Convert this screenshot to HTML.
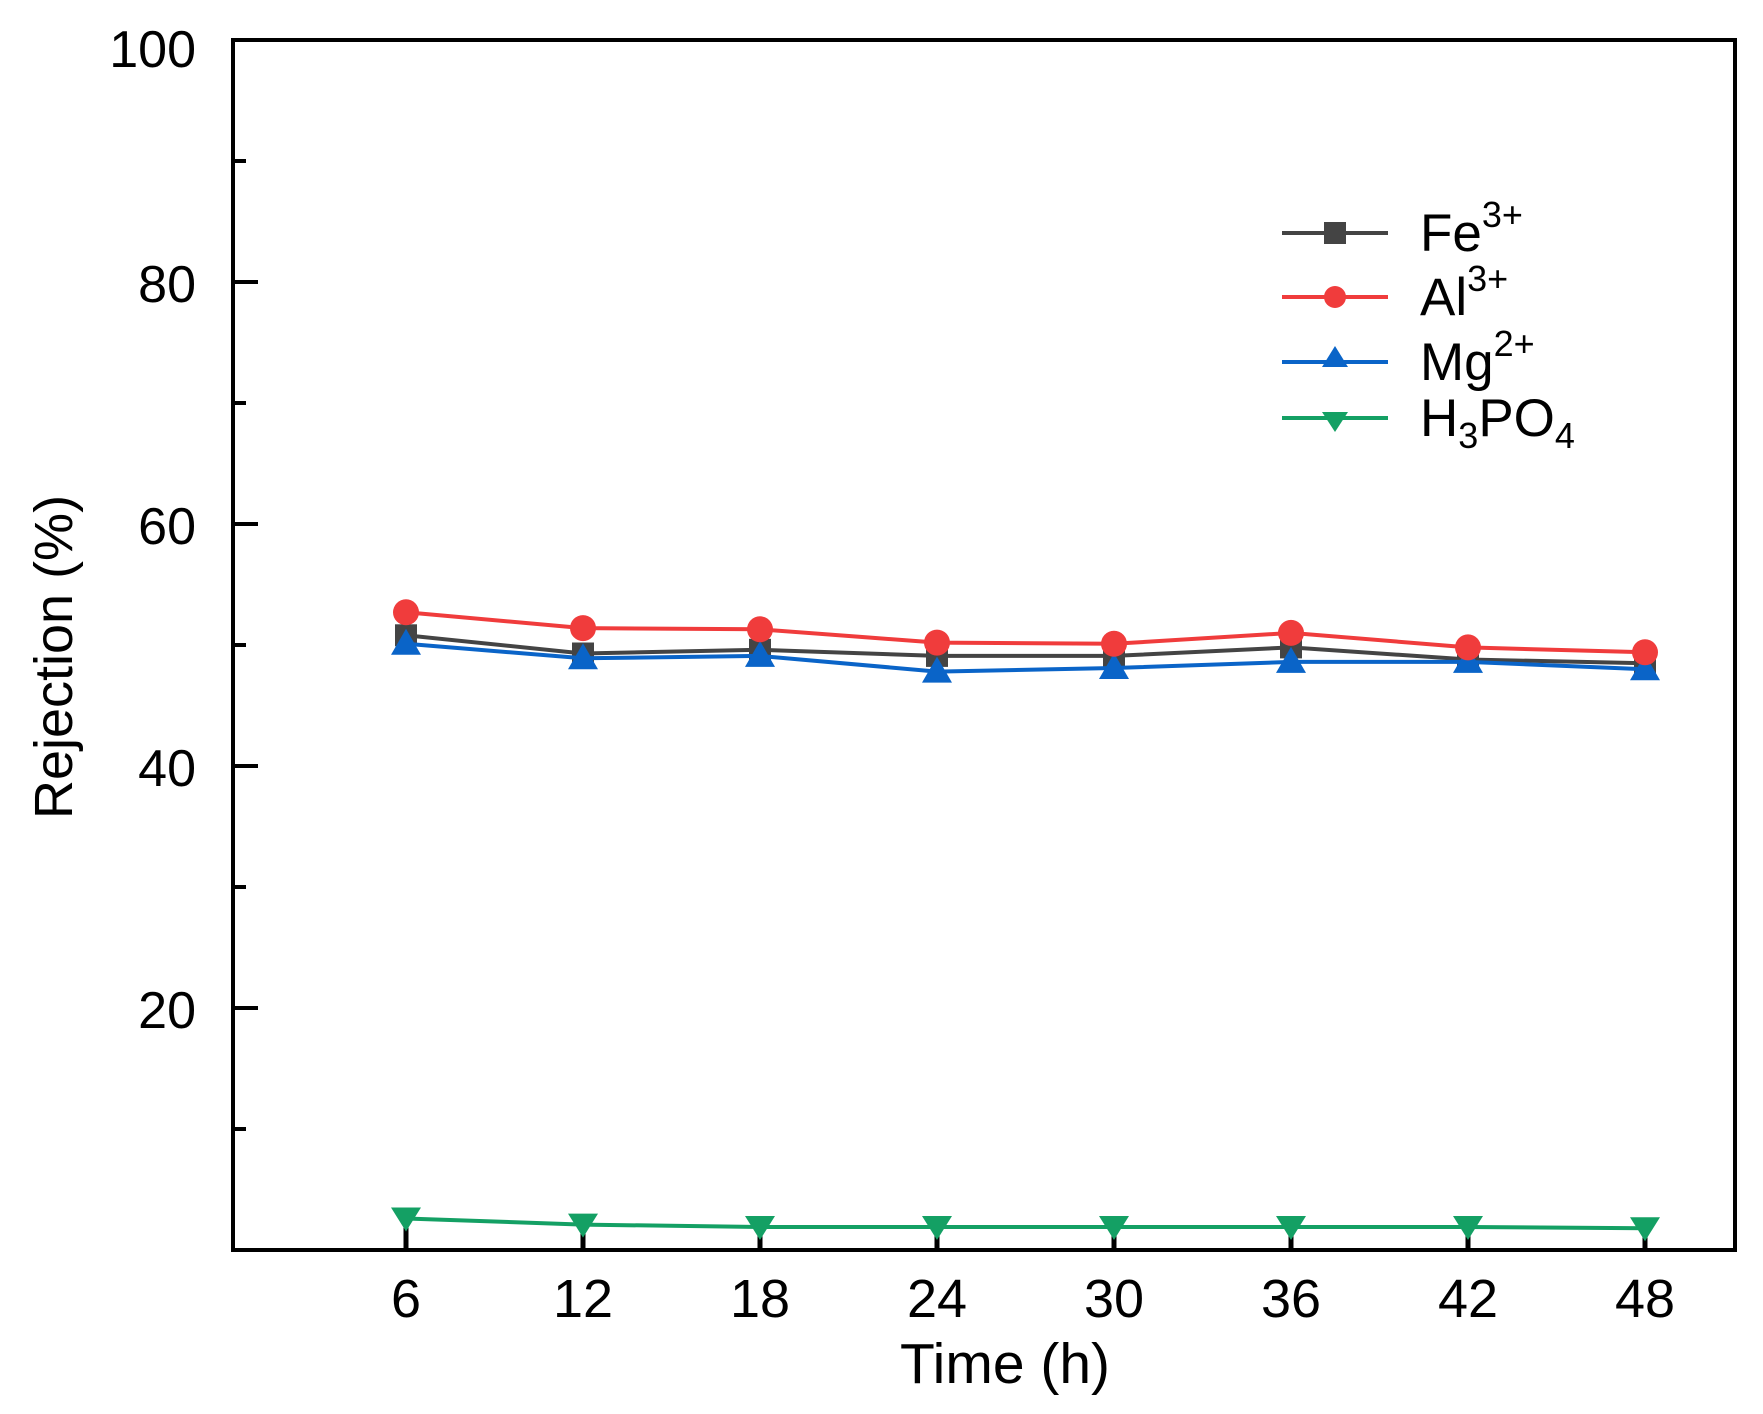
<!DOCTYPE html>
<html><head><meta charset="utf-8"><style>
html,body{margin:0;padding:0;background:#fff;}
svg{display:block;font-family:"Liberation Sans",Arial,sans-serif;}
</style></head><body>
<svg width="1763" height="1414" viewBox="0 0 1763 1414" xmlns="http://www.w3.org/2000/svg">
<defs>
<marker id="msq" markerUnits="userSpaceOnUse" markerWidth="24" markerHeight="24" refX="12" refY="12" overflow="visible"><rect x="1" y="1" width="22" height="22" fill="#444"/></marker>
<marker id="mci" markerUnits="userSpaceOnUse" markerWidth="28" markerHeight="28" refX="14" refY="14" overflow="visible"><circle cx="14" cy="14" r="13" fill="#f03c3c"/></marker>
<marker id="mtu" markerUnits="userSpaceOnUse" markerWidth="30" markerHeight="28" refX="15" refY="15" overflow="visible"><polygon points="15,0 30,26 0,26" fill="#0a64c8"/></marker>
<marker id="mtd" markerUnits="userSpaceOnUse" markerWidth="30" markerHeight="28" refX="15" refY="11" overflow="visible"><polygon points="0,0 30,0 15,24" fill="#14a064"/></marker>
</defs>
<rect width="1763" height="1414" fill="#fff"/>
<g stroke="#000" stroke-width="5">
<line x1="406" y1="1250" x2="406" y2="1222"/><line x1="583" y1="1250" x2="583" y2="1222"/>
<line x1="760" y1="1250" x2="760" y2="1222"/><line x1="937" y1="1250" x2="937" y2="1222"/>
<line x1="1114" y1="1250" x2="1114" y2="1222"/><line x1="1291" y1="1250" x2="1291" y2="1222"/>
<line x1="1468" y1="1250" x2="1468" y2="1222"/><line x1="1645" y1="1250" x2="1645" y2="1222"/>
</g>
<polyline fill="none" stroke="#444" stroke-width="4" marker-start="url(#msq)" marker-mid="url(#msq)" marker-end="url(#msq)" points="406,635.3 583,653.5 760,649.8 937,655.9 1114,655.9 1291,647.4 1468,659.5 1645,663.2"/>
<polyline fill="none" stroke="#0a64c8" stroke-width="4" marker-start="url(#mtu)" marker-mid="url(#mtu)" marker-end="url(#mtu)" points="406,643.8 583,658.3 760,655.9 937,671.6 1114,668 1291,661.9 1468,661.9 1645,669.2"/>
<polyline fill="none" stroke="#f03c3c" stroke-width="4" marker-start="url(#mci)" marker-mid="url(#mci)" marker-end="url(#mci)" points="406,612.3 583,628.1 760,629.3 937,642.6 1114,643.8 1291,632.9 1468,647.4 1645,652.3"/>
<polyline fill="none" stroke="#14a064" stroke-width="4" marker-start="url(#mtd)" marker-mid="url(#mtd)" marker-end="url(#mtd)" points="406,1218.5 583,1224.6 760,1227 937,1227 1114,1227 1291,1227 1468,1227 1645,1228.2"/>
<rect x="233" y="40" width="1502" height="1210" fill="none" stroke="#000" stroke-width="4"/>
<g stroke="#000" stroke-width="4">
<line x1="233" y1="282" x2="258" y2="282"/><line x1="233" y1="524" x2="258" y2="524"/>
<line x1="233" y1="766" x2="258" y2="766"/><line x1="233" y1="1008" x2="258" y2="1008"/>
<line x1="233" y1="161" x2="246" y2="161"/><line x1="233" y1="403" x2="246" y2="403"/>
<line x1="233" y1="645" x2="246" y2="645"/><line x1="233" y1="887" x2="246" y2="887"/>
<line x1="233" y1="1129" x2="246" y2="1129"/>
</g>
<g font-size="52" text-anchor="end" fill="#000">
<text x="196" y="67">100</text><text x="196" y="302">80</text><text x="196" y="544">60</text>
<text x="196" y="786">40</text><text x="196" y="1028">20</text>
</g>
<g font-size="54" text-anchor="middle" fill="#000">
<text x="406" y="1317">6</text><text x="583" y="1317">12</text><text x="760" y="1317">18</text>
<text x="937" y="1317">24</text><text x="1114" y="1317">30</text><text x="1291" y="1317">36</text>
<text x="1468" y="1317">42</text><text x="1645" y="1317">48</text>
</g>
<text x="1005" y="1383" font-size="57" text-anchor="middle">Time (h)</text>
<text transform="translate(72,657) rotate(-90)" font-size="54" text-anchor="middle">Rejection (%)</text>
<g font-size="53" fill="#000">
<line x1="1282" y1="233" x2="1388" y2="233" stroke="#444" stroke-width="4"/><rect x="1324" y="222" width="22" height="22" fill="#444"/>
<text x="1420" y="251">Fe<tspan font-size="36" dy="-24">3+</tspan></text>
<line x1="1282" y1="297" x2="1388" y2="297" stroke="#f03c3c" stroke-width="4"/><circle cx="1335" cy="297" r="11" fill="#f03c3c"/>
<text x="1420" y="315">Al<tspan font-size="36" dy="-24">3+</tspan></text>
<line x1="1282" y1="362" x2="1388" y2="362" stroke="#0a64c8" stroke-width="4"/><polygon points="1335,346 1348,367 1322,367" fill="#0a64c8"/>
<text x="1420" y="380">Mg<tspan font-size="36" dy="-24">2+</tspan></text>
<line x1="1282" y1="418" x2="1388" y2="418" stroke="#14a064" stroke-width="4"/><polygon points="1322,412 1348,412 1335,432" fill="#14a064"/>
<text x="1420" y="436">H<tspan font-size="36" dy="12">3</tspan><tspan dy="-12">PO</tspan><tspan font-size="36" dy="12">4</tspan></text>
</g>
</svg>
</body></html>
